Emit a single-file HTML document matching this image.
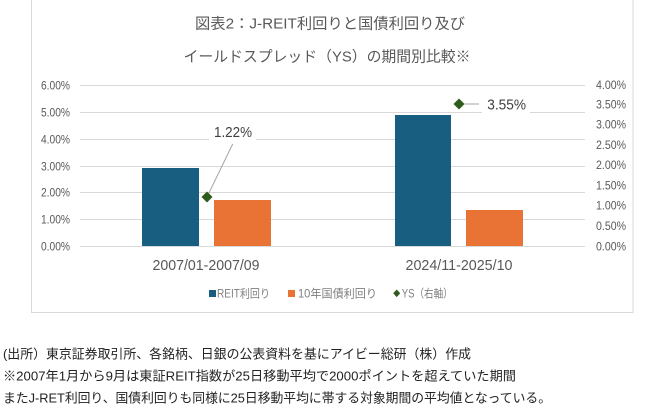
<!DOCTYPE html>
<html><head><meta charset="utf-8"><style>
html,body{margin:0;padding:0;background:#fff;}
svg{display:block;}
text{font-family:"Liberation Sans","Noto Sans CJK JP",sans-serif;}
</style></head><body>
<svg width="649" height="416" viewBox="0 0 649 416" xmlns="http://www.w3.org/2000/svg">
<rect x="0" y="0" width="649" height="416" fill="#fff"/>
<!-- chart frame -->
<rect x="31.5" y="-2" width="601.5" height="314.5" fill="none" stroke="#d9d9d9" stroke-width="1"/>
<!-- title -->
<text x="330" y="28.5" font-size="15" fill="#595959" text-anchor="middle" textLength="270" lengthAdjust="spacingAndGlyphs">図表2：J-REIT利回りと国債利回り及び</text>
<text x="327" y="61.5" font-size="15" fill="#595959" text-anchor="middle" textLength="287" lengthAdjust="spacingAndGlyphs">イールドスプレッド（YS）の期間別比較※</text>
<!-- gridlines -->
<g stroke="#d9d9d9" stroke-width="1">
<line x1="80" y1="85.5" x2="585" y2="85.5"/>
<line x1="80" y1="112.5" x2="482" y2="112.5"/>
<line x1="530" y1="112.5" x2="585" y2="112.5"/>
<line x1="80" y1="139.5" x2="209" y2="139.5"/>
<line x1="256" y1="139.5" x2="585" y2="139.5"/>
<line x1="80" y1="166.5" x2="585" y2="166.5"/>
<line x1="80" y1="192.5" x2="585" y2="192.5"/>
<line x1="80" y1="219.5" x2="585" y2="219.5"/>
<line x1="80" y1="246.5" x2="585" y2="246.5"/>
</g>
<!-- left axis labels -->
<g font-size="12" fill="#595959" text-anchor="end">
<text x="70" y="89.5" textLength="29" lengthAdjust="spacingAndGlyphs">6.00%</text>
<text x="70" y="116.5" textLength="29" lengthAdjust="spacingAndGlyphs">5.00%</text>
<text x="70" y="143.5" textLength="29" lengthAdjust="spacingAndGlyphs">4.00%</text>
<text x="70" y="170.5" textLength="29" lengthAdjust="spacingAndGlyphs">3.00%</text>
<text x="70" y="196.5" textLength="29" lengthAdjust="spacingAndGlyphs">2.00%</text>
<text x="70" y="223.5" textLength="29" lengthAdjust="spacingAndGlyphs">1.00%</text>
<text x="70" y="250.5" textLength="29" lengthAdjust="spacingAndGlyphs">0.00%</text>
</g>
<!-- right axis labels -->
<g font-size="12" fill="#595959">
<text x="596" y="89" textLength="30" lengthAdjust="spacingAndGlyphs">4.00%</text>
<text x="596" y="108.5" textLength="30" lengthAdjust="spacingAndGlyphs">3.50%</text>
<text x="596" y="128.5" textLength="30" lengthAdjust="spacingAndGlyphs">3.00%</text>
<text x="596" y="149" textLength="30" lengthAdjust="spacingAndGlyphs">2.50%</text>
<text x="596" y="169" textLength="30" lengthAdjust="spacingAndGlyphs">2.00%</text>
<text x="596" y="189.5" textLength="30" lengthAdjust="spacingAndGlyphs">1.50%</text>
<text x="596" y="209.5" textLength="30" lengthAdjust="spacingAndGlyphs">1.00%</text>
<text x="596" y="230" textLength="30" lengthAdjust="spacingAndGlyphs">0.50%</text>
<text x="596" y="250.5" textLength="30" lengthAdjust="spacingAndGlyphs">0.00%</text>
</g>
<!-- bars -->
<rect x="142" y="168" width="57" height="78" fill="#175e80"/>
<rect x="214" y="200" width="57" height="46" fill="#e87334"/>
<rect x="395" y="115" width="56" height="131" fill="#175e80"/>
<rect x="466" y="210" width="57" height="36" fill="#e87334"/>
<!-- leader lines -->
<line x1="232.7" y1="144" x2="207" y2="197" stroke="#a6a6a6" stroke-width="1"/>
<line x1="459" y1="104" x2="479" y2="104" stroke="#a6a6a6" stroke-width="1"/>
<!-- markers -->
<polygon points="207,191.5 212.5,197 207,202.5 201.5,197" fill="#2e5a1c"/>
<polygon points="459,98.5 464.5,104 459,109.5 453.5,104" fill="#2e5a1c"/>
<!-- value labels -->
<text x="214" y="137" font-size="15" fill="#404040" textLength="38" lengthAdjust="spacingAndGlyphs">1.22%</text>
<text x="487.3" y="109.5" font-size="15" fill="#404040" textLength="38.7" lengthAdjust="spacingAndGlyphs">3.55%</text>
<!-- x labels -->
<text x="206" y="270" font-size="15" fill="#595959" text-anchor="middle" textLength="107" lengthAdjust="spacingAndGlyphs">2007/01-2007/09</text>
<text x="459" y="270" font-size="15" fill="#595959" text-anchor="middle" textLength="107" lengthAdjust="spacingAndGlyphs">2024/11-2025/10</text>
<!-- legend -->
<rect x="209" y="290" width="7" height="7" fill="#175e80"/>
<text x="217" y="297.5" font-size="11.5" fill="#7f7f7f" textLength="53" lengthAdjust="spacingAndGlyphs">REIT利回り</text>
<rect x="288" y="290" width="7" height="7" fill="#e87334"/>
<text x="298" y="297.5" font-size="11.5" fill="#7f7f7f" textLength="79" lengthAdjust="spacingAndGlyphs">10年国債利回り</text>
<polygon points="396.7,289.5 400.2,293.3 396.7,297.1 393.2,293.3" fill="#2e5a1c"/>
<text x="401.7" y="297.5" font-size="11.5" fill="#7f7f7f" textLength="51" lengthAdjust="spacingAndGlyphs">YS（右軸）</text>
<!-- footnotes -->
<g font-size="13" fill="#222">
<text x="3" y="358.5" textLength="468" lengthAdjust="spacingAndGlyphs">(出所）東京証券取引所、各銘柄、日銀の公表資料を基にアイビー総研（株）作成</text>
<text x="3" y="380.5" textLength="513" lengthAdjust="spacingAndGlyphs">※2007年1月から9月は東証REIT指数が25日移動平均で2000ポイントを超えていた期間</text>
<text x="3" y="402.5" textLength="548" lengthAdjust="spacingAndGlyphs">またJ-RET利回り、国債利回りも同様に25日移動平均に帯する対象期間の平均値となっている。</text>
</g>
</svg>
</body></html>
